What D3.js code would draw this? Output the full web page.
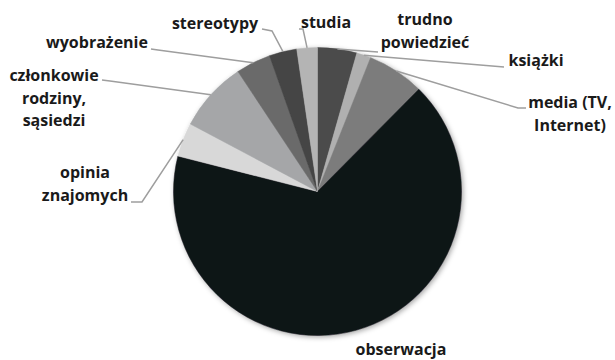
<!DOCTYPE html>
<html>
<head>
<meta charset="utf-8">
<script src="https://cdn.jsdelivr.net/npm/d3@7"></script>
<style>
  body { margin: 0; background: #fff; }
  .lbl { font-family: "Open Sans", sans-serif; font-weight: 700; font-size: 16px; fill: #1a1a1a; }
</style>
</head>
<body>
<div id="chart"></div>
<script>
// data (percent of answers)
var categories = ["trudno powiedzieć", "książki", "media (TV, Internet)", "obserwacja",
  "opinia znajomych", "członkowie rodziny, sąsiedzi", "wyobrażenie", "stereotypy", "studia"]
var values = [4.4, 1.6, 6.4, 66.4, 3.8, 7.9, 3.9, 3.1, 2.3]
var labelLines = [["trudno", "powiedzieć"], ["książki"], ["media (TV,", "Internet)"], ["obserwacja"],
  ["opinia", "znajomych"], ["członkowie", "rodziny,", "sąsiedzi"], ["wyobrażenie"], ["stereotypy"], ["studia"]]

var width = 615, height = 360
var cx = 317.5, cy = 191.5, radius = 144

var colors = ["#4b4b4b", "#b0b0b0", "#7b7b7b", "#111418", "#d8d8d8", "#a5a6a8", "#6b6b6b", "#444444", "#b4b4b4"]
var color = d3.scaleOrdinal().domain(categories).range(colors)

// label placement: text centre x, first baseline y, leader line points (label side)
var layout = {
  "trudno powiedzieć": { x: 425, y: 25, line: [[378, 52]] },
  "książki": { x: 536, y: 66, line: [[504, 67]] },
  "media (TV, Internet)": { x: 570, y: 108, line: [[518, 108], [526, 108]] },
  "obserwacja": { x: 401, y: 355, line: null },
  "opinia znajomych": { x: 85, y: 178, line: [[142, 202], [131, 202]] },
  "członkowie rodziny, sąsiedzi": { x: 54, y: 81, line: [[110, 81], [102, 80]] },
  "wyobrażenie": { x: 97, y: 48, line: [[158, 50], [151, 49]] },
  "stereotypy": { x: 215, y: 29, line: [[272, 31], [262, 29]] },
  "studia": { x: 326, y: 28, line: [[303, 29], [299, 29]] }
}

var svg = d3.select("#chart")
  .append("svg")
  .attr("width", width)
  .attr("height", height)

var defs = svg.append("defs")
var shadow = defs.append("filter")
  .attr("id", "shadow")
  .attr("x", "-10%").attr("y", "-10%")
  .attr("width", "120%").attr("height", "120%")
shadow.append("feDropShadow")
  .attr("dx", 1.5)
  .attr("dy", 1.5)
  .attr("stdDeviation", 2.5)
  .attr("flood-color", "#000")
  .attr("flood-opacity", 0.35)

var pie = d3.pie()
  .sort(null)
  .value(d => d.value)

var arcs = pie(categories.map((c, i) => ({ name: c, value: values[i], lines: labelLines[i] })))

var arc = d3.arc()
  .innerRadius(0)
  .outerRadius(radius)

var edge = d3.arc()
  .innerRadius(radius)
  .outerRadius(radius)

var g = svg.append("g")
  .attr("transform", `translate(${cx},${cy})`)

// leader lines (behind the pie)
var lineGen = d3.line()
svg.append("g")
  .attr("class", "leaders")
  .selectAll("path")
  .data(arcs.filter(d => layout[d.data.name].line))
  .enter()
  .append("path")
  .attr("d", d => {
    var p = edge.centroid(d)
    var pts = [[p[0] + cx, p[1] + cy]].concat(layout[d.data.name].line)
    return lineGen(pts)
  })
  .style("fill", "none")
  .style("stroke", "#9e9e9e")
  .style("stroke-width", 1.5)

// slices
var slices = g.append("g")
  .attr("filter", "url(#shadow)")

slices.selectAll("path")
  .data(arcs)
  .enter()
  .append("path")
  .attr("d", arc)
  .style("fill", d => color(d.data.name))
  .style("stroke", d => color(d.data.name))
  .style("stroke-width", 0.5)

// labels
var labels = svg.append("g")
  .selectAll("text")
  .data(arcs)
  .enter()
  .append("text")
  .attr("class", "lbl")
  .attr("text-anchor", "middle")
  .attr("x", d => layout[d.data.name].x)
  .attr("y", d => layout[d.data.name].y)

labels.selectAll("tspan")
  .data(d => d.data.lines.map(t => ({ t: t, x: layout[d.data.name].x })))
  .enter()
  .append("tspan")
  .attr("x", d => d.x)
  .attr("dy", (d, i) => i === 0 ? 0 : 22.5)
  .text(d => d.t)
</script>
</body>
</html>
